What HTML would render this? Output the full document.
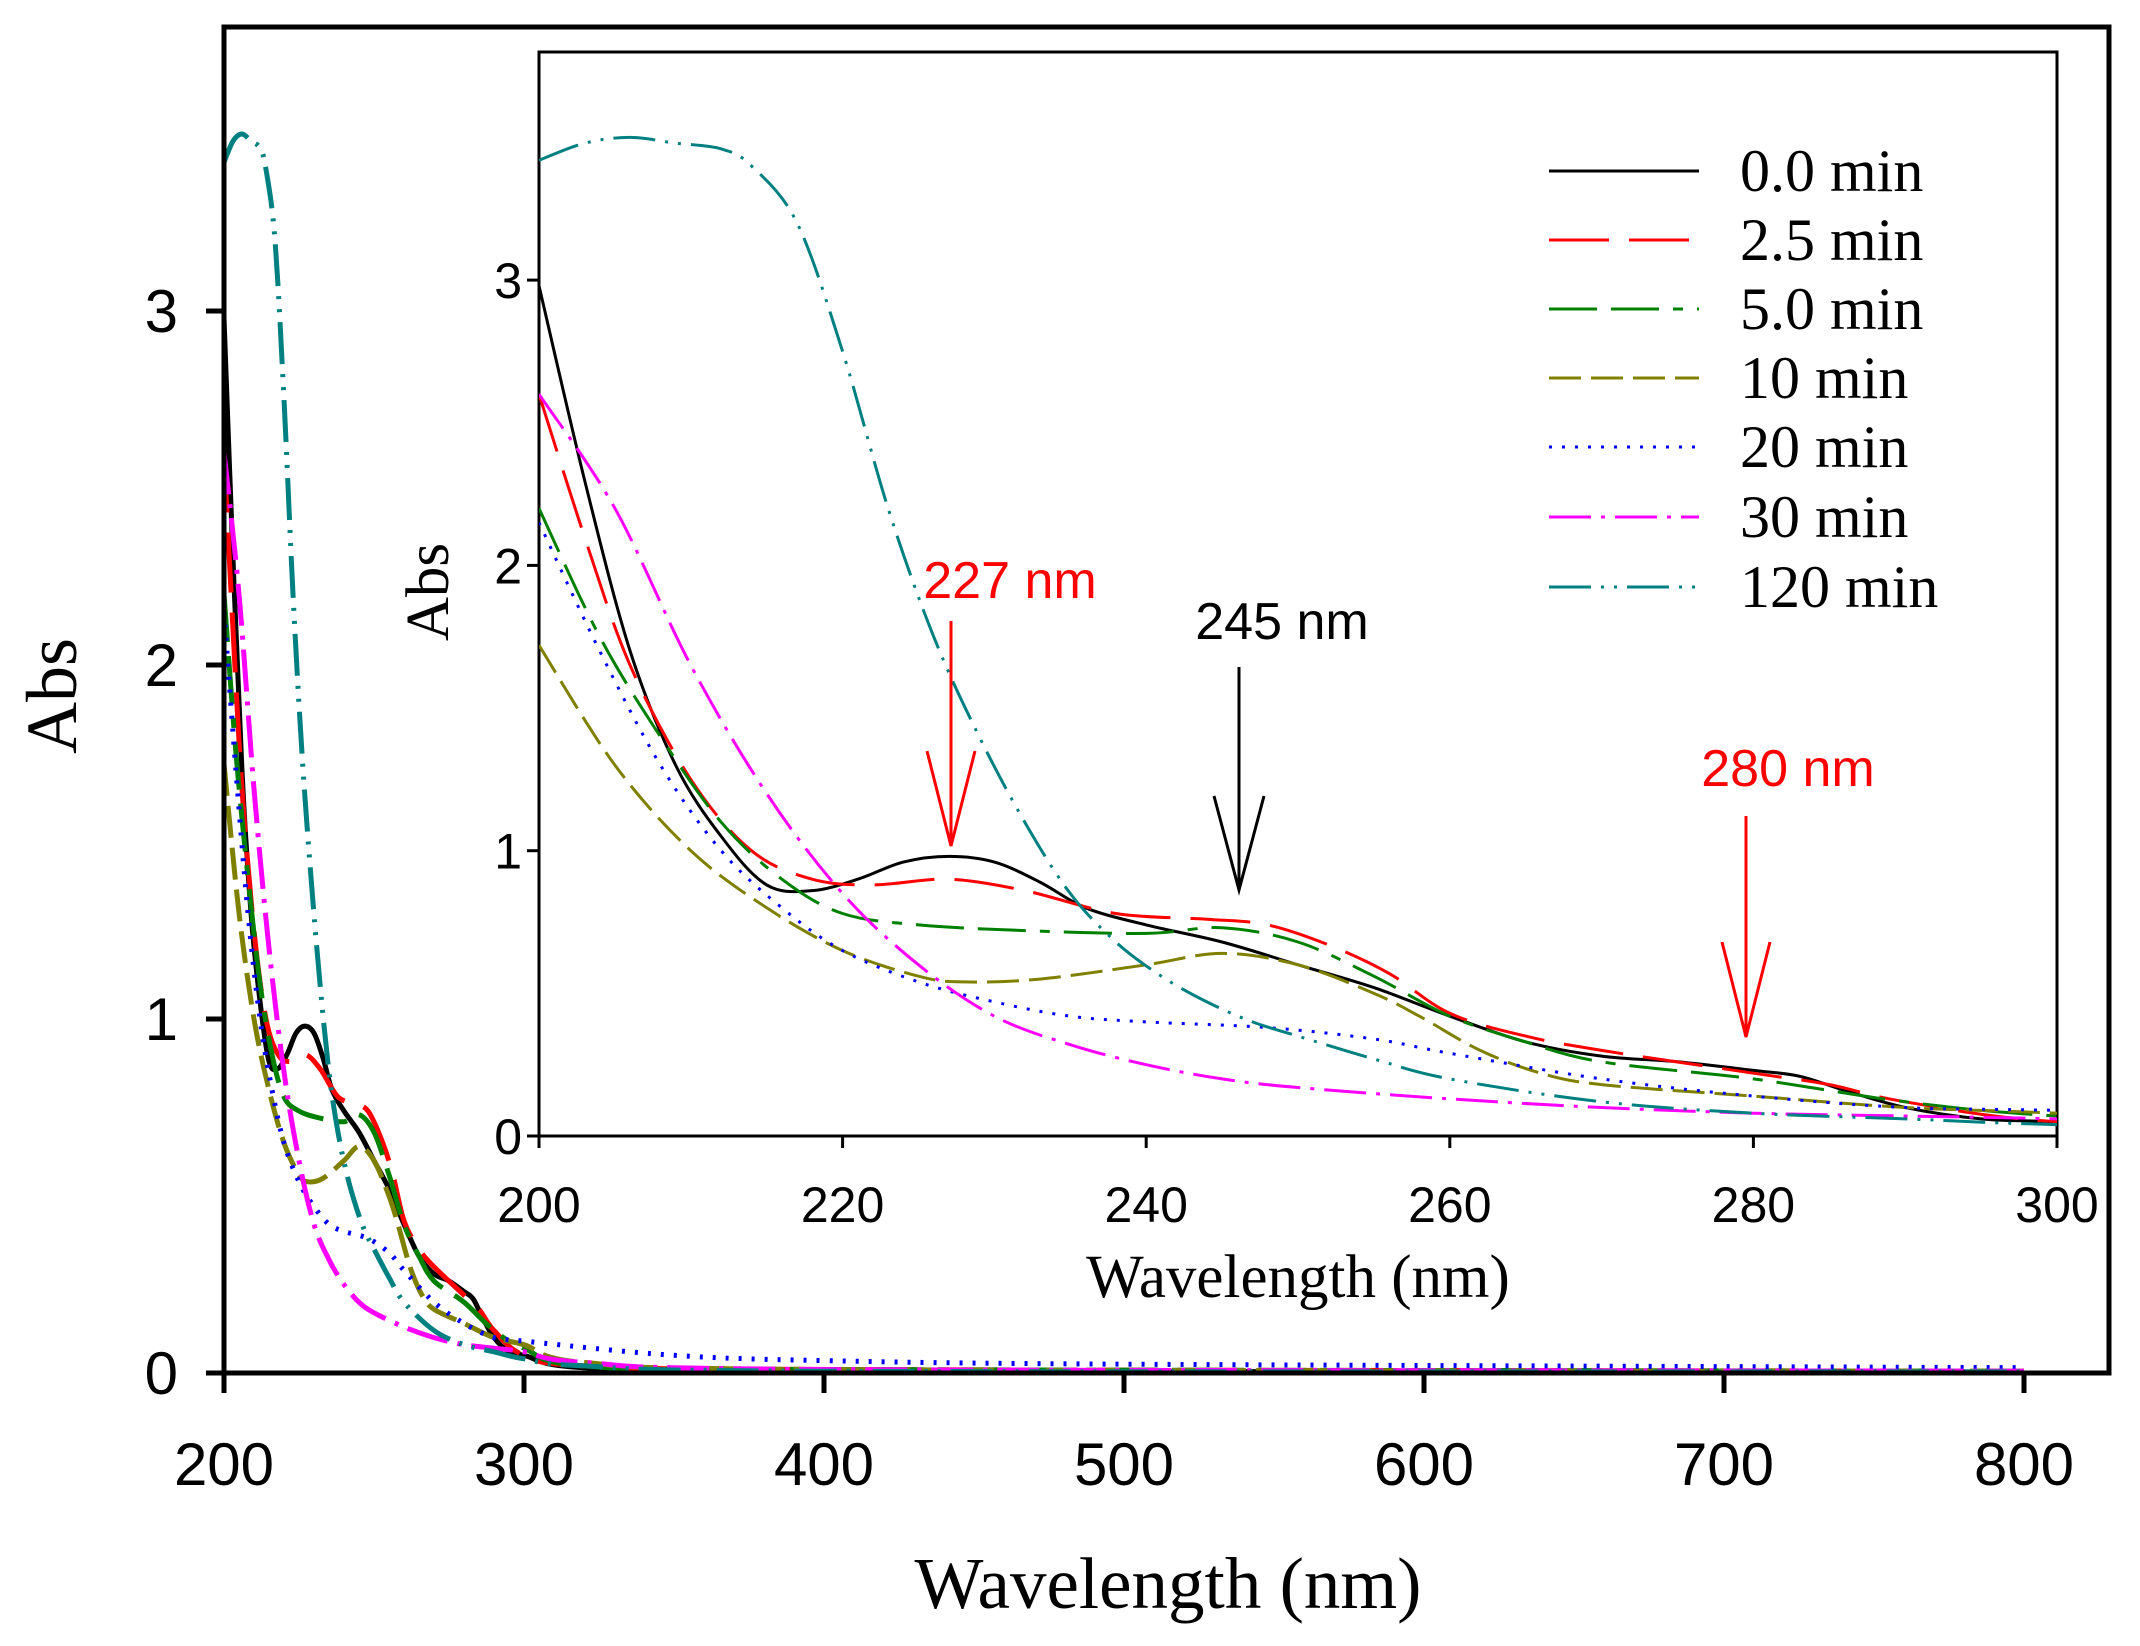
<!DOCTYPE html>
<html><head><meta charset="utf-8"><style>
html,body{margin:0;padding:0;background:#fff;}
svg{display:block;}
.serif{font-family:"Liberation Serif",serif;}
.sans{font-family:"Liberation Sans",sans-serif;}
</style></head><body>
<svg id="chart" width="2140" height="1646" viewBox="0 0 2140 1646" xmlns="http://www.w3.org/2000/svg">
<defs>
<clipPath id="mainClip"><rect x="224" y="27" width="1885" height="1347"/></clipPath>
<clipPath id="insetClip"><rect x="539" y="52" width="1518" height="1084"/></clipPath>
</defs>
<rect x="0" y="0" width="2140" height="1646" fill="#fff"/>
<g id="main"></g>
<rect x="539" y="52" width="1518" height="1084" fill="#fff" stroke="#000" stroke-width="3"/>
<g id="inset"></g>
<g id="legend"></g>
<g id="annot"></g>
</svg>
<script>
const seriesNames = ["0.0 min","2.5 min","5.0 min","10 min","20 min","30 min","120 min"];
const seriesColors = ["#000000","#ff0000","#008000","#808000","#0000ff","#ff00ff","#008080"];
const seriesDash = ["", "60 20", "48 14 48 14 10 14", "32 10", "3 10", "42 10 4 10", "42 10 3 10 3 10"];
const wl0 = [200,203,206,209,212,215,218,221,224,227,230,233,236,240,245,250,255,260,265,270,275,280,283,286,290,295,300,320,400,800];
const abs0 = [2.98,2.3,1.7,1.3,1.05,0.88,0.86,0.9,0.96,0.98,0.96,0.89,0.8,0.74,0.68,0.6,0.52,0.42,0.33,0.28,0.26,0.23,0.21,0.16,0.1,0.06,0.05,0.015,0.005,0.003];
const wl1 = [200,203,206,210,214,218,222,227,232,238,244,248,252,256,260,265,270,280,285,290,300,320,400,800];
const abs1 = [2.6,2.1,1.65,1.25,1.0,0.9,0.88,0.9,0.86,0.78,0.76,0.74,0.67,0.57,0.43,0.35,0.3,0.22,0.18,0.12,0.05,0.02,0.01,0.005];
const wl2 = [200,204,208,212,216,220,225,232,240,245,250,255,260,265,270,280,290,300,320,400,800];
const abs2 = [2.2,1.75,1.4,1.1,0.9,0.78,0.74,0.72,0.71,0.73,0.68,0.56,0.42,0.33,0.26,0.2,0.12,0.07,0.02,0.01,0.005];
const wl3 = [200,205,210,215,220,225,228,233,240,245,250,255,258,262,266,270,280,290,300,320,400,800];
const abs3 = [1.72,1.3,1.0,0.8,0.65,0.56,0.54,0.55,0.6,0.64,0.6,0.5,0.42,0.3,0.22,0.18,0.14,0.1,0.08,0.03,0.01,0.005];
const wl4 = [200,204,208,212,216,220,225,230,235,240,248,255,260,270,280,290,300,350,400,500,800];
const abs4 = [2.15,1.7,1.3,1.0,0.8,0.65,0.54,0.47,0.42,0.4,0.38,0.34,0.29,0.2,0.14,0.1,0.09,0.05,0.035,0.025,0.015];
const wl5 = [200,205,210,215,220,225,230,235,240,245,250,260,270,280,290,300,320,400,800];
const abs5 = [2.6,2.2,1.65,1.2,0.85,0.6,0.42,0.32,0.25,0.2,0.17,0.13,0.1,0.08,0.07,0.06,0.03,0.01,0.005];
const wl6 = [200,203,206,209,212,214,217,220,223,226,229,232,235,238,241,244,247,250,255,260,270,280,290,300,320,400,800];
const abs6 = [3.42,3.48,3.5,3.48,3.46,3.4,3.2,2.75,2.2,1.75,1.4,1.1,0.85,0.68,0.56,0.47,0.4,0.35,0.27,0.2,0.12,0.08,0.06,0.04,0.02,0.005,0.003];
const allWl = [wl0,wl1,wl2,wl3,wl4,wl5,wl6];
const allAbs = [abs0,abs1,abs2,abs3,abs4,abs5,abs6];
const mainXTicks = [200,300,400,500,600,700,800];
const mainYTicks = [0,1,2,3];
const insetXTicks = [200,220,240,260,280,300];
const insetYTicks = [0,1,2,3];

const NS="http://www.w3.org/2000/svg";
function mk(tag, attrs, parent){const e=document.createElementNS(NS,tag);for(const k in attrs)e.setAttribute(k,attrs[k]);parent.appendChild(e);return e;}
const mx = v => 224 + (v-200)*3.0;
const my = v => 1373 - v*354;
const ix = v => 539 + (v-200)*15.18;
const iy = v => 1136 - v*285.3;
function smooth(pts){
  let d='M'+pts[0][0].toFixed(1)+' '+pts[0][1].toFixed(1);
  for(let i=0;i<pts.length-1;i++){
    const p0=pts[Math.max(0,i-1)],p1=pts[i],p2=pts[i+1],p3=pts[Math.min(pts.length-1,i+2)];
    const c1x=p1[0]+(p2[0]-p0[0])/6, c1y=p1[1]+(p2[1]-p0[1])/6;
    const c2x=p2[0]-(p3[0]-p1[0])/6, c2y=p2[1]-(p3[1]-p1[1])/6;
    d+=` C${c1x.toFixed(1)} ${c1y.toFixed(1)} ${c2x.toFixed(1)} ${c2y.toFixed(1)} ${p2[0].toFixed(1)} ${p2[1].toFixed(1)}`;
  }
  return d;
}

const main=document.getElementById('main');
const mg = mk('g',{'clip-path':'url(#mainClip)'},main);
for(let s=0;s<7;s++){
  const pts = allWl[s].map((w,i)=>[mx(w),my(allAbs[s][i])]);
  const p = mk('path',{d:smooth(pts),fill:'none',stroke:seriesColors[s],'stroke-width':5,'stroke-dasharray':seriesDash[s],'stroke-linejoin':'round'},mg);
  
  
}
const mf = mk('rect',{x:224,y:27,width:1885,height:1346,fill:'none',stroke:'#000','stroke-width':5},main);


mainXTicks.forEach(t=>{
  mk('line',{x1:mx(t),x2:mx(t),y1:1373,y2:1393,stroke:'#000','stroke-width':5},main);
  const tx = mk('text',{x:mx(t),y:1485,'text-anchor':'middle','font-size':60,class:'sans'},main);
  tx.textContent=t;
  
  
});
mainYTicks.forEach(t=>{
  mk('line',{x1:206,x2:224,y1:my(t),y2:my(t),stroke:'#000','stroke-width':5},main);
  const tx = mk('text',{x:178,y:my(t)+21,'text-anchor':'end','font-size':60,class:'sans'},main);
  tx.textContent=t;
  
  
});
let t1 = mk('text',{x:1168,y:1608,'text-anchor':'middle','font-size':73,class:'serif'},main);
t1.textContent='Wavelength (nm)';


let t2 = mk('text',{x:0,y:0,'text-anchor':'middle','font-size':72,class:'serif',transform:'translate(76,696) rotate(-90)'},main);
t2.textContent='Abs';



const inset=document.getElementById('inset');
const ig = mk('g',{'clip-path':'url(#insetClip)'},inset);
for(let s=0;s<7;s++){
  const pts = allWl[s].map((w,i)=>[ix(w),iy(allAbs[s][i])]);
  const p = mk('path',{d:smooth(pts),fill:'none',stroke:seriesColors[s],'stroke-width':3,'stroke-dasharray':seriesDash[s],'stroke-linejoin':'round'},ig);
  
  
}
insetXTicks.forEach(t=>{
  mk('line',{x1:ix(t),x2:ix(t),y1:1136,y2:1148,stroke:'#000','stroke-width':3},inset);
  const tx = mk('text',{x:ix(t),y:1222,'text-anchor':'middle','font-size':50,class:'sans'},inset);
  tx.textContent=t;
  
  
});
insetYTicks.forEach(t=>{
  mk('line',{x1:527,x2:539,y1:iy(t),y2:iy(t),stroke:'#000','stroke-width':3},inset);
  const tx = mk('text',{x:522,y:iy(t)+18,'text-anchor':'end','font-size':50,class:'sans'},inset);
  tx.textContent=t;
  
  
});
let t3 = mk('text',{x:1298,y:1297,'text-anchor':'middle','font-size':61,class:'serif'},inset);
t3.textContent='Wavelength (nm)';


let t4 = mk('text',{x:0,y:0,'text-anchor':'middle','font-size':61,class:'serif',transform:'translate(448,592) rotate(-90)'},inset);
t4.textContent='Abs';



const legend=document.getElementById('legend');
const rowY=[171,240,309,378,447,517,587];
for(let s=0;s<7;s++){
  const l = mk('line',{x1:1549,x2:1699,y1:rowY[s],y2:rowY[s],stroke:seriesColors[s],'stroke-width':3,'stroke-dasharray':seriesDash[s]},legend);
  
  
  const tx = mk('text',{x:1740,y:rowY[s]+20,'font-size':60,class:'serif'},legend);
  tx.textContent=seriesNames[s];
  
  
}

const annot=document.getElementById('annot');
function arrow(x,top,tip,wy,ww,color,label,lx,ly){
  mk('line',{x1:x,x2:x,y1:top,y2:tip,stroke:color,'stroke-width':3},annot);
  mk('polyline',{points:`${x-ww},${wy} ${x},${tip} ${x+ww},${wy}`,fill:'none',stroke:color,'stroke-width':3},annot);
  const tx = mk('text',{x:lx,y:ly,'text-anchor':'middle','font-size':52,class:'sans',fill:color},annot);
  tx.textContent=label;
  
  
}
arrow(951,621,846,751,24,'#ff0000','227 nm',1010,598);
arrow(1239,667,890,796,25,'#000000','245 nm',1282,639);
arrow(1746,816,1037,942,24,'#ff0000','280 nm',1788,786);
</script>
</body></html>
